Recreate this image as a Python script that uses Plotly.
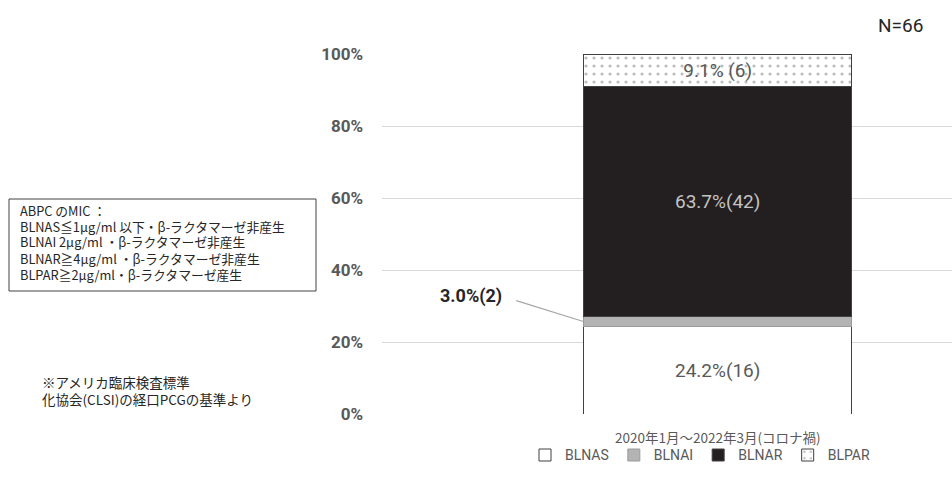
import plotly.graph_objects as go

# Data
period = ["2020年1月～2022年3月(コロナ禍)"]
series = ["BLNAS", "BLNAI", "BLNAR", "BLPAR"]
percent = [24.2, 3.0, 63.7, 9.1]
counts = [16, 2, 42, 6]
total_n = 66
y_ticks = [0, 20, 40, 60, 80, 100]

fills = ["#ffffff", "#b3b3b3", "#231f20", "#ffffff"]
edges = ["#404040", "#9a9a9a", "#404040", "#404040"]
label_colors = ["#595959", "#595959", "#c4c4c4", "#595959"]

JP = "Noto Sans CJK JP"
GRAY = "#595959"

fig = go.Figure()
for i, name in enumerate(series):
    txt = f"{percent[i]:.1f}%({counts[i]})" if name != "BLPAR" else f"{percent[i]:.1f}% ({counts[i]})"
    show_text = name != "BLNAI"
    marker = dict(color=fills[i], line=dict(color=edges[i], width=1))
    if name == "BLPAR":
        marker["pattern"] = dict(shape=".", fgcolor="#7a7a7a", bgcolor="#ffffff",
                                 size=8, solidity=0.12)
    fig.add_trace(go.Bar(
        x=[0], y=[percent[i]], name=name, width=0.40,
        marker=marker,
        text=[txt if show_text else ""],
        textposition="inside", insidetextanchor="middle",
        textfont=dict(family="Roboto", size=19, color=label_colors[i]),
        hoverinfo="skip",
    ))

# Callout for the thin BLNAI segment
nai_mid = percent[0] + percent[1] / 2
fig.add_shape(type="line", xref="x", yref="y",
              x0=-0.30, y0=31.5, x1=-0.20, y1=nai_mid,
              line=dict(color="#a6a6a6", width=1.2))
fig.add_annotation(x=-0.367, y=32.8, xref="x", yref="y",
                   text=f"<b>{percent[1]:.1f}%({counts[1]})</b>", showarrow=False,
                   font=dict(family="Roboto", size=18, color="#262626"))

# Category label under the bar
fig.add_annotation(x=0, y=-0.064, xref="x", yref="paper", yanchor="middle",
                   text=period[0], showarrow=False,
                   font=dict(family=JP, size=13.5, color=GRAY))

# Sample size
fig.add_annotation(x=1.0, y=1.08, xref="paper", yref="paper", xanchor="right",
                   yanchor="middle", text=f"N={total_n}", showarrow=False, xshift=-27,
                   font=dict(family="Roboto", size=19, color="#262626"))

# Definition box
box_lines = [
    "ABPC のMIC ：",
    "BLNAS≦1μg/ml 以下・β-ラクタマーゼ非産生",
    "BLNAI 2μg/ml ・β-ラクタマーゼ非産生",
    "BLNAR≧4μg/ml ・β-ラクタマーゼ非産生",
    "BLPAR≧2μg/ml・β-ラクタマーゼ産生",
]
fig.add_shape(type="rect", xref="paper", yref="paper",
              x0=(9 - 382) / 570, x1=(316 - 382) / 570,
              y0=(414 - 291) / 360, y1=(414 - 199) / 360,
              line=dict(color="#404040", width=1), fillcolor="rgba(0,0,0,0)")
for k, line in enumerate(box_lines):
    fig.add_annotation(x=(18 - 382) / 570, y=(414 - (210 + 16 * k)) / 360,
                       xref="paper", yref="paper", xanchor="left", yanchor="middle",
                       text=line, showarrow=False,
                       font=dict(family=JP, size=12.8, color="#262626"))

# Source note
note_lines = ["※アメリカ臨床検査標準", "化協会(CLSI)の経口PCGの基準より"]
for k, line in enumerate(note_lines):
    fig.add_annotation(x=(40 - 382) / 570, y=(414 - (382 + 17 * k)) / 360,
                       xref="paper", yref="paper", xanchor="left", yanchor="middle",
                       text=line, showarrow=False,
                       font=dict(family=JP, size=13.5, color="#262626"))

fig.update_layout(
    barmode="stack",
    width=952, height=488,
    margin=dict(l=382, r=0, t=54, b=74),
    plot_bgcolor="#ffffff", paper_bgcolor="#ffffff",
    showlegend=True,
    legend=dict(orientation="h", x=(700 - 382) / 570, xanchor="center",
                y=-0.115, yanchor="middle",
                font=dict(family="Roboto", size=14, color=GRAY),
                traceorder="normal", itemwidth=30),
    xaxis=dict(range=[-0.5, 0.349], showticklabels=False, showgrid=False,
               zeroline=False, showline=False, fixedrange=True),
    yaxis=dict(range=[0, 100], tickvals=y_ticks,
               ticktext=[f"{v}%" for v in y_ticks],
               showgrid=True, gridcolor="#d9d9d9", gridwidth=1,
               zeroline=False, showline=False, ticks="",
               ticklabelstandoff=18,
               tickfont=dict(family="Roboto", size=17, color=GRAY, weight="bold")),
    font=dict(family=JP),
)

fig.write_html("out.html")
